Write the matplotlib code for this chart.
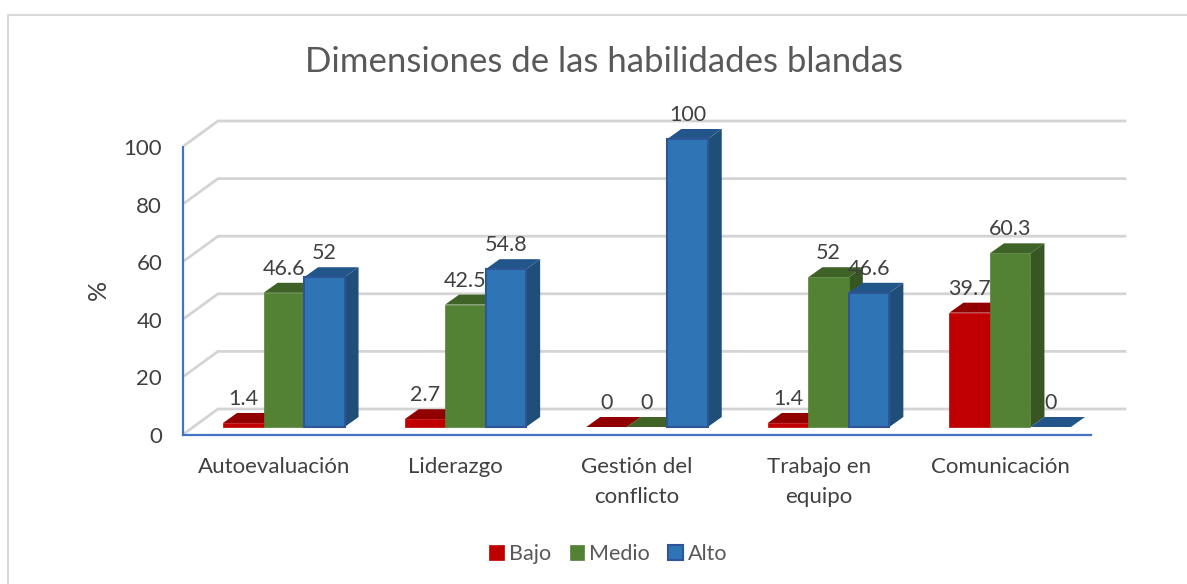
import matplotlib
matplotlib.use("Agg")
import matplotlib.pyplot as plt
from matplotlib.patches import Polygon, Patch
from matplotlib.lines import Line2D

categories = ["Autoevaluación", "Liderazgo", "Gestión del\nconflicto", "Trabajo en\nequipo", "Comunicación"]
series_names = ["Bajo", "Medio", "Alto"]
bajo = [1.4, 2.7, 0, 1.4, 39.7]
medio = [46.6, 42.5, 0, 52, 60.3]
alto = [52, 54.8, 100, 46.6, 0]
series_values = [bajo, medio, alto]
y_ticks = [0, 20, 40, 60, 80, 100]

front = ["#C00000", "#548235", "#2E75B6"]
top = ["#900000", "#3F6226", "#22568A"]
side = ["#900000", "#375623", "#1F4E79"]
edges = ["#C00000", "#548235", "#2F5597"]
text_color = "#404040"
plt.rcParams["font.family"] = ["Lato", "DejaVu Sans"]

W, H = 1187, 584
fig = plt.figure(figsize=(W / 100, H / 100), dpi=100, facecolor="white")
L, R, T, B = 183, 1091, 147, 435
ax = fig.add_axes([L / W, 1 - B / H, (R - L) / W, (B - T) / H])
ax.set_xlim(-0.5, 4.5)
ax.set_ylim(0, 100)
ax.patch.set_alpha(0)
px = 5 / (R - L)          # category units per pixel
py = 100 / (B - T)        # value units per pixel

# chart frame: top and left edges only
fig.add_artist(Line2D([8 / W, 8 / W, 1], [0, 1 - 15 / H, 1 - 15 / H], transform=fig.transFigure,
                      color="#D9D9D9", lw=1.5, solid_joinstyle="miter"))

# walls
wall_dx, wall_dy = 35 * px, 26 * py
for v in y_ticks:
    ax.plot([-0.5 + 2 * px, -0.5 + wall_dx, 4.5 + wall_dx - 1 * px],
            [v + 2 * py, v + wall_dy, v + wall_dy],
            color="#D4D4D4", lw=2.0, clip_on=False, zorder=1, solid_joinstyle="miter")

# bars
floor_dx, floor_dy = 10 * px, 8 * py
bar_w = 40.5 * px
depth_x, depth_y = 14 * px, 10 * py
for i in range(len(categories)):
    for s, vals in enumerate(series_values):
        v = vals[i]
        x0 = i - 1.5 * bar_w + s * bar_w + floor_dx
        x1 = x0 + bar_w
        y0 = floor_dy
        y1 = y0 + v
        z = 3 + i + 0.1 * s
        ax.add_patch(Polygon([(x1, y0), (x1 + depth_x, y0 + depth_y), (x1 + depth_x, y1 + depth_y), (x1, y1)],
                             fc=side[s], ec="none", clip_on=False, zorder=z))
        ax.add_patch(Polygon([(x0, y1), (x0 + depth_x, y1 + depth_y), (x1 + depth_x, y1 + depth_y), (x1, y1)],
                             fc=top[s], ec="none", clip_on=False, zorder=z))
        if v > 0:
            ax.bar(x0, v, width=bar_w, bottom=y0, align="edge", color=front[s], ec=edges[s],
                   lw=1.5 if s == 2 else 0.5, clip_on=False, zorder=z + 0.01)
        ax.annotate(f"{v:g}", (x0 + bar_w / 2, y1), xytext=(0, 24 * 0.72), textcoords="offset points",
                    ha="center", va="center", fontsize=15.5, color=text_color, zorder=20, annotation_clip=False)

# axes
for name in ["top", "right"]:
    ax.spines[name].set_visible(False)
for name in ["left", "bottom"]:
    ax.spines[name].set_color("#4472C4")
    ax.spines[name].set_linewidth(1.6)
    ax.spines[name].set_zorder(2)
ax.set_yticks(y_ticks)
ax.tick_params(axis="y", length=0, pad=15, labelsize=16, labelcolor=text_color)
ax.set_xticks(range(len(categories)))
ax.set_xticklabels(categories, fontsize=16, color=text_color, linespacing=1.58, va="top")
ax.tick_params(axis="x", length=0, pad=16)

fig.text(98 / W, 1 - 290 / H, "%", rotation=90, ha="center", va="center", fontsize=18, color=text_color)
fig.text(604 / W, 1 - 62 / H, "Dimensiones de las habilidades blandas", ha="center", va="center",
         fontsize=25, color="#595959")

handles = [Patch(fc=front[s], ec=edges[s], lw=1.5 if s == 2 else 0.5) for s in range(3)]
fig.legend(handles, series_names, loc="center", bbox_to_anchor=(608.5 / W, 1 - 554 / H), ncol=3, frameon=False,
           fontsize=15.5, labelcolor="#595959", handlelength=0.66, handleheight=0.66, handletextpad=0.26,
           columnspacing=0.85)

fig.savefig("out.png", dpi=100)
